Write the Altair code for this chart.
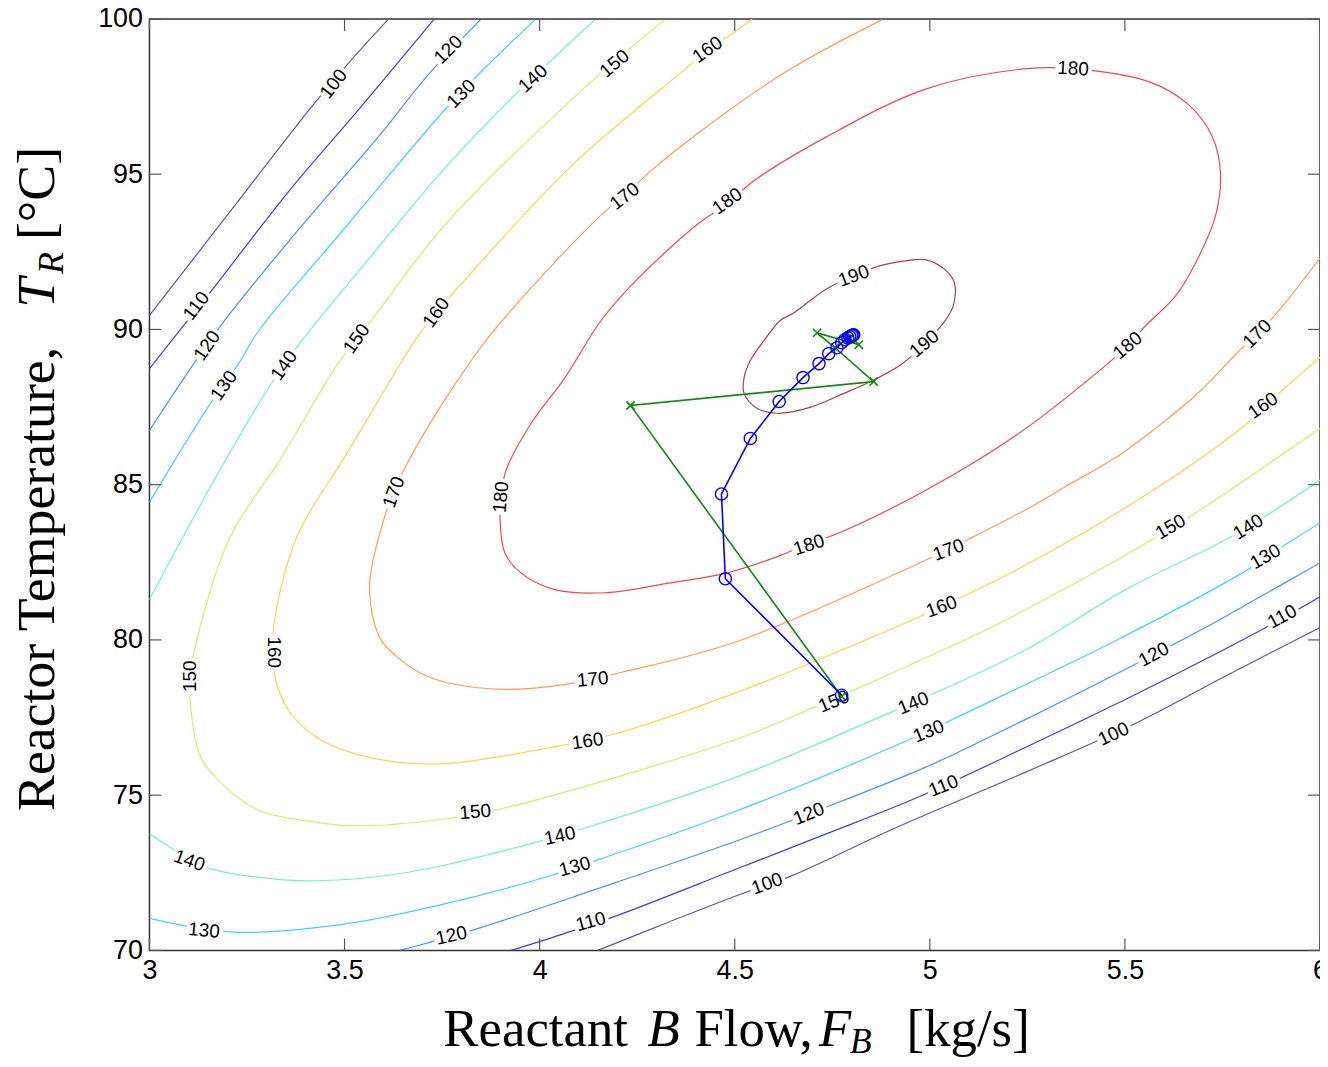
import altair as alt
import pandas as pd

# ---------------- contour lines (x = F_B [kg/s], y = T_R [°C]) ----------------
c100_a = [(3.0, 90.45), (3.21, 93.85), (3.42, 97.24), (3.513, 98.62), (3.613, 100.0)]
c100_b = [(4.149, 70.0), (4.328, 70.90), (4.506, 71.77), (4.647, 72.41), (4.907, 73.92),
          (5.247, 75.75), (5.533, 77.35), (5.757, 78.83), (6.0, 80.40)]
c110_a = [(3.0, 88.74), (3.077, 89.96), (3.156, 91.2), (3.357, 94.45), (3.536, 97.08), (3.728, 99.97)]
c110_b = [(3.927, 70.0), (4.065, 70.55), (4.200, 71.13), (4.506, 72.63), (4.736, 73.76),
          (4.971, 74.94), (5.247, 76.55), (5.528, 78.25), (5.842, 80.27), (6.0, 81.39)]
c120_a = [(3.0, 86.75), (3.105, 88.74), (3.186, 90.18), (3.383, 93.23), (3.587, 96.21),
          (3.717, 98.24), (3.848, 99.97)]
c120_b = [(3.641, 70.0), (3.710, 70.23), (3.843, 70.71), (4.149, 71.99), (4.506, 73.53),
          (4.690, 74.40), (4.991, 75.91), (5.247, 77.45), (5.510, 79.11), (5.699, 80.35),
          (5.834, 81.30), (6.0, 82.48)]
c130_a = [(3.0, 84.44), (3.148, 87.46), (3.230, 88.93), (3.276, 89.89), (3.511, 93.42),
          (3.753, 97.02), (3.850, 98.30), (3.988, 99.97)]
c130_b = [(3.0, 71.03), (3.143, 70.68), (3.255, 70.58), (3.511, 70.87), (3.740, 71.45),
          (4.021, 72.38), (4.157, 72.95), (4.506, 74.50), (4.933, 76.71), (5.060, 77.45),
          (5.247, 78.57), (5.477, 79.98), (5.801, 82.16), (5.918, 83.12), (6.0, 83.77)]
c140_a = [(3.0, 81.30), (3.166, 85.15), (3.306, 88.13), (3.386, 89.57), (3.562, 92.27),
          (3.761, 95.25), (3.932, 97.50), (4.034, 98.72), (4.141, 99.97)]
c140_b = [(3.0, 73.76), (3.102, 72.95), (3.166, 72.60), (3.378, 72.25), (3.587, 72.38),
          (3.761, 72.76), (3.978, 73.44), (4.118, 73.95), (4.506, 75.59), (4.889, 77.61),
          (5.022, 78.34), (5.247, 79.69), (5.502, 81.62), (5.757, 83.22), (5.877, 84.12),
          (6.0, 85.15)]
c150 = [(4.320, 99.97), (4.243, 99.17), (4.141, 98.08), (3.761, 93.42), (3.574, 90.38),
        (3.485, 88.93), (3.334, 85.79), (3.207, 83.32), (3.123, 80.08), (3.105, 78.83),
        (3.105, 77.93), (3.130, 76.26), (3.191, 75.30), (3.283, 74.50), (3.421, 74.14),
        (3.523, 74.01), (3.761, 74.24), (3.901, 74.56), (4.200, 75.59), (4.506, 76.81),
        (4.693, 77.77), (4.820, 78.47), (5.145, 80.33), (5.221, 80.81), (5.561, 83.16),
        (5.681, 84.09), (6.0, 86.81)]
c160 = [(4.545, 100.0), (4.489, 99.49), (4.430, 99.01), (4.374, 98.40), (4.080, 95.25),
        (3.779, 91.18), (3.735, 90.54), (3.689, 89.80), (3.506, 86.01), (3.378, 83.32),
        (3.319, 80.49), (3.319, 79.60), (3.322, 78.79), (3.360, 77.67), (3.437, 76.80),
        (3.549, 76.26), (3.735, 76.00), (4.047, 76.58), (4.192, 76.97), (4.506, 78.31),
        (4.838, 80.01), (5.030, 81.07), (5.247, 82.42), (5.561, 84.73), (5.801, 86.85),
        (5.911, 88.13), (6.0, 89.10)]
c170 = [(4.877, 99.97), (4.652, 98.46), (4.481, 97.02), (4.269, 94.93), (4.218, 94.29),
        (4.162, 93.74), (3.876, 89.86), (3.761, 87.81), (3.654, 85.53), (3.626, 84.76),
        (3.600, 83.86), (3.564, 81.71), (3.590, 80.08), (3.633, 79.47), (3.692, 78.95),
        (3.761, 78.63), (3.911, 78.41), (4.067, 78.57), (4.208, 78.95), (4.506, 79.95),
        (4.974, 82.48), (5.111, 83.32), (5.247, 84.20), (5.349, 84.95), (5.477, 85.88),
        (5.604, 87.07), (5.689, 87.97), (5.788, 89.25), (5.839, 89.86), (5.890, 90.54),
        (6.0, 92.30)]
c180 = [(4.481, 93.97), (4.537, 94.67), (4.736, 96.21), (4.991, 97.75), (5.247, 98.40),
        (5.367, 98.40), (5.561, 97.98), (5.663, 97.24), (5.724, 96.21), (5.745, 95.03),
        (5.732, 93.65), (5.681, 92.14), (5.630, 91.08), (5.553, 90.12), (5.507, 89.48),
        (5.456, 88.90), (5.221, 86.59), (4.991, 84.83), (4.754, 83.38), (4.690, 83.12),
        (4.621, 82.74), (4.481, 82.16), (4.335, 81.84), (4.167, 81.52), (4.039, 81.62),
        (3.952, 82.16), (3.911, 82.80), (3.899, 83.77), (3.901, 84.60), (3.914, 85.47),
        (3.978, 86.97), (4.065, 88.45), (4.157, 90.28), (4.251, 91.63), (4.425, 93.58),
        (4.481, 93.97)]
c190 = [(4.805, 91.72), (4.869, 92.04), (4.933, 92.20), (4.991, 92.24), (5.043, 91.88),
        (5.063, 91.50), (5.060, 90.76), (5.035, 90.21), (4.986, 89.54), (4.933, 88.93),
        (4.864, 88.42), (4.780, 87.94), (4.693, 87.49), (4.609, 87.30), (4.557, 87.46),
        (4.524, 87.94), (4.524, 88.45), (4.540, 89.00), (4.575, 89.64), (4.616, 90.28),
        (4.652, 90.54), (4.736, 91.31), (4.805, 91.72)]

contours = [
    (100, c100_a), (100, c100_b), (110, c110_a), (110, c110_b),
    (120, c120_a), (120, c120_b), (130, c130_a), (130, c130_b),
    (140, c140_a), (140, c140_b), (150, c150), (160, c160),
    (170, c170), (180, c180), (190, c190),
]

levels = [100, 110, 120, 130, 140, 150, 160, 170, 180, 190]
level_colors = ["#5a5aa0", "#3c3cf0", "#4f8ff7", "#3fd2ff", "#6ff5c0",
                "#c3f56a", "#ffd24a", "#ff9a5c", "#f0484d", "#a0454a"]

# contour labels: (level, x, y, angle)
clabels = [
    (100, 3.472, 97.91, -52), (110, 3.120, 90.76, -52), (120, 3.148, 89.48, -55),
    (120, 3.766, 99.01, -45), (130, 3.191, 88.19, -55), (130, 3.799, 97.59, -45),
    (140, 3.345, 88.84, -55), (140, 3.983, 98.08, -42), (150, 4.192, 98.56, -40),
    (150, 3.531, 89.70, -55), (150, 3.105, 78.83, 270), (160, 4.430, 99.01, -35),
    (160, 3.735, 90.54, -55), (160, 3.319, 79.60, 90), (170, 4.218, 94.29, -38),
    (170, 3.626, 84.76, -70), (180, 4.481, 94.13, -35), (180, 3.901, 84.60, 275),
    (190, 4.805, 91.72, -20), (190, 4.986, 89.54, -40), (180, 5.367, 98.40, 3),
    (180, 5.507, 89.48, -40), (170, 5.839, 89.86, -45), (160, 5.854, 87.55, -35),
    (180, 4.690, 83.06, -18), (170, 5.048, 82.90, -20), (160, 5.030, 81.07, -20),
    (170, 4.136, 78.73, -5), (160, 4.123, 76.74, -8), (150, 3.835, 74.46, -5),
    (150, 4.754, 78.02, -22), (150, 5.617, 83.64, -30), (140, 5.816, 83.64, -32),
    (130, 5.860, 82.68, -30), (110, 5.903, 80.75, -28), (120, 5.574, 79.53, -28),
    (100, 5.471, 76.97, -25), (140, 4.958, 77.96, -22), (130, 4.997, 77.06, -22),
    (120, 4.690, 74.40, -22), (110, 5.035, 75.30, -22), (100, 4.583, 72.15, -20),
    (140, 4.052, 73.69, -12), (130, 4.090, 72.70, -15), (120, 3.774, 70.48, -12),
    (110, 4.131, 70.93, -15), (140, 3.102, 72.89, 20), (130, 3.140, 70.64, 5),
]

# optimisation paths
path_o_x = [4.774, 4.476, 4.466, 4.540, 4.614, 4.675, 4.716, 4.741, 4.762, 4.774,
            4.782, 4.790, 4.795, 4.800, 4.803, 4.805]
path_o_y = [78.22, 81.97, 84.70, 86.49, 87.68, 88.45, 88.90, 89.22, 89.41, 89.57,
            89.67, 89.73, 89.77, 89.80, 89.82, 89.83]
path_x_x = [4.774, 4.233, 4.856, 4.757, 4.711, 4.818, 4.787, 4.795]
path_x_y = [78.18, 87.55, 88.32, 89.41, 89.89, 89.51, 89.70, 89.70]

x_ticks = [3, 3.5, 4, 4.5, 5, 5.5, 6]
y_ticks = [70, 75, 80, 85, 90, 95, 100]

# ---------------- build tables ----------------
rows = []
for seg, (lev, pts) in enumerate(contours):
    for i, (x, y) in enumerate(pts):
        rows.append({"level": str(lev), "seg": seg, "i": i, "x": x, "y": y})
cdf = pd.DataFrame(rows)
ldf = pd.DataFrame([{"t": str(l), "x": x, "y": y, "a": a} for l, x, y, a in clabels])
po = pd.DataFrame({"x": path_o_x, "y": path_o_y, "i": range(len(path_o_x))})
px = pd.DataFrame({"x": path_x_x, "y": path_x_y, "i": range(len(path_x_x))})
xt = pd.DataFrame({"v": x_ticks})
yt = pd.DataFrame({"v": y_ticks})

W, H = 1175, 935
xs = alt.Scale(domain=[3, 6], nice=False, zero=False)
ys = alt.Scale(domain=[70, 100], nice=False, zero=False)
X = alt.X("x:Q", scale=xs, axis=alt.Axis(values=x_ticks, format="~g", title=None,
                                         labelFlush=False))
Y = alt.Y("y:Q", scale=ys, axis=alt.Axis(values=y_ticks, format="d", title=None,
                                         labelFlush=False))

lines = alt.Chart(cdf).mark_line(strokeWidth=1.2, interpolate="catmull-rom", clip=True).encode(
    x=X, y=Y,
    color=alt.Color("level:N", scale=alt.Scale(domain=[str(l) for l in levels], range=level_colors),
                    legend=None),
    detail="seg:N", order="i:Q",
)

lab_common = dict(font="Liberation Sans", fontSize=19)
halo = alt.Chart(ldf).mark_text(fill="white", stroke="white", strokeWidth=7, **lab_common).encode(
    x=alt.X("x:Q", scale=xs), y=alt.Y("y:Q", scale=ys), text="t:N", angle=alt.Angle("a:Q", scale=None))
labs = alt.Chart(ldf).mark_text(color="black", **lab_common).encode(
    x=alt.X("x:Q", scale=xs), y=alt.Y("y:Q", scale=ys), text="t:N", angle=alt.Angle("a:Q", scale=None))

green_line = alt.Chart(px).mark_line(color="#118811", strokeWidth=1.6).encode(
    x=alt.X("x:Q", scale=xs), y=alt.Y("y:Q", scale=ys), order="i:Q")
green_pts = alt.Chart(px).mark_point(shape="M-1,-1L1,1M-1,1L1,-1", size=70, color="#118811",
                                     strokeWidth=1.6, filled=False, opacity=1).encode(
    x=alt.X("x:Q", scale=xs), y=alt.Y("y:Q", scale=ys))
blue_line = alt.Chart(po).mark_line(color="#0000ff", strokeWidth=1.6).encode(
    x=alt.X("x:Q", scale=xs), y=alt.Y("y:Q", scale=ys), order="i:Q")
blue_pts = alt.Chart(po).mark_point(shape="circle", size=150, color="#0000ff", strokeWidth=1.4,
                                    filled=False, opacity=1).encode(
    x=alt.X("x:Q", scale=xs), y=alt.Y("y:Q", scale=ys))

tick_col = "#555555"
tb = alt.Chart(xt).mark_rule(color=tick_col, strokeWidth=1.2).encode(
    x=alt.X("v:Q", scale=xs), y=alt.value(H), y2=alt.value(H - 12))
tt = alt.Chart(xt).mark_rule(color=tick_col, strokeWidth=1.2).encode(
    x=alt.X("v:Q", scale=xs), y=alt.value(0), y2=alt.value(12))
tl = alt.Chart(yt).mark_rule(color=tick_col, strokeWidth=1.2).encode(
    y=alt.Y("v:Q", scale=ys), x=alt.value(0), x2=alt.value(12))
tr = alt.Chart(yt).mark_rule(color=tick_col, strokeWidth=1.2).encode(
    y=alt.Y("v:Q", scale=ys), x=alt.value(W), x2=alt.value(W - 12))

# axis titles (serif, with italic symbols and subscripts)
serif = "Liberation Serif"
def piece(text, x, y, size=53, italic=False, angle=0):
    return alt.Chart(pd.DataFrame({"t": [text]})).mark_text(
        font=serif, fontSize=size, fontStyle="italic" if italic else "normal",
        align="left", baseline="alphabetic", angle=angle, color="black").encode(
        text="t:N", x=alt.value(x), y=alt.value(y))

titles = [
    piece("Reactant", 295, 1031),
    piece("B", 500, 1031, italic=True),
    piece("Flow,", 547, 1031),
    piece("F", 672, 1031, italic=True),
    piece("B", 703, 1038, size=36, italic=True),
    piece("[kg/s]", 760, 1031),
    piece("Reactor Temperature,", -96, 795, size=54, angle=270),
    piece("T", -96, 290, size=54, italic=True, angle=270),
    piece("R", -87, 256, size=36, italic=True, angle=270),
    piece("[°C]", -96, 222, size=54, angle=270),
]

chart = alt.layer(lines, halo, labs, green_line, green_pts, blue_line, blue_pts,
                  tb, tt, tl, tr, *titles).properties(
    width=W, height=H, autosize="none",
    padding={"left": 142, "top": 9, "right": 0, "bottom": 107},
).configure_view(stroke="#333333", strokeWidth=1.5).configure_axis(
    domain=False, ticks=False, grid=False, labelFont="Liberation Sans", labelFontSize=27,
    labelColor="black", labelPadding=7,
)

chart.save("out.html", embed_options={"renderer": "svg", "actions": False})
